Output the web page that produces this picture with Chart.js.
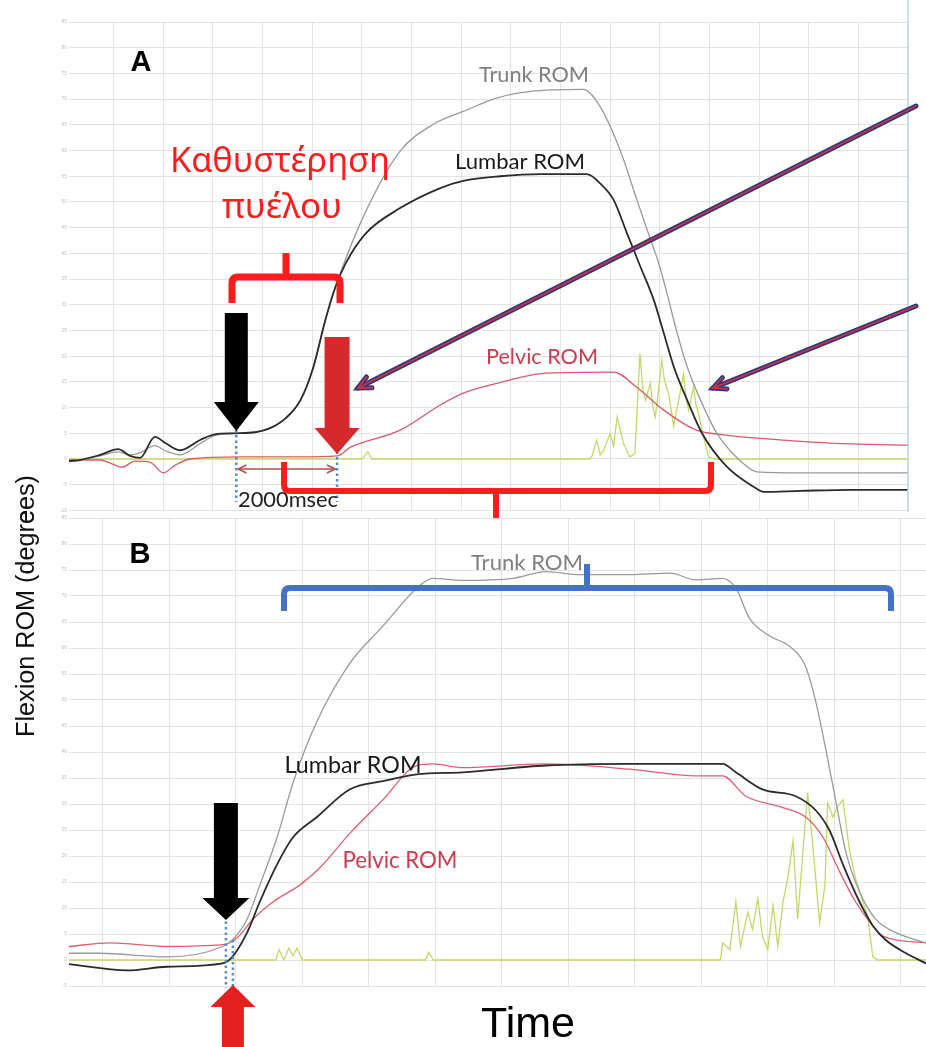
<!DOCTYPE html>
<html>
<head>
<meta charset="utf-8">
<script src="https://cdn.jsdelivr.net/npm/chart.js@4.4.1/dist/chart.umd.min.js"></script>
<style>
html, body { margin: 0; padding: 0; background: #fff; }
#wrap { position: relative; width: 926px; height: 1047px; overflow: hidden; }
canvas { position: absolute; left: 0; }
#chartA { top: 0; }
#chartB { top: 510px; }
</style>
</head>
<body>
<div id="wrap">
    <canvas id="chartA" width="926" height="520"></canvas>
    <canvas id="chartB" width="926" height="537"></canvas>
</div>
<script>
// Panel A (time in s, flexion in degrees)
const lumbarA_t = [0.1, 0.32, 0.73, 1.09, 1.33, 1.53, 1.83, 2.04, 2.34, 2.74, 3.04, 3.45, 3.85, 4.15, 4.46, 4.76, 5.02, 5.26, 5.46, 5.67, 6.07, 6.77, 7.58, 8.04, 8.79, 9.6, 10.53, 10.8, 11.07, 11.34, 11.61, 11.88, 12.08, 12.28, 12.55, 12.85, 13.35, 13.89, 14.09, 14.84, 15.85, 17.0];
const lumbarA = [-0.4, -0.2, 0.8, 1.9, 0.6, 0.2, 4.3, 3.1, 1.7, 3.7, 4.8, 5.0, 5.2, 6.0, 7.9, 11.4, 17.8, 26.9, 33.3, 38.0, 43.8, 48.8, 52.7, 54.1, 55.0, 55.4, 55.4, 53.6, 50.4, 43.9, 37.4, 30.9, 24.5, 18.0, 11.5, 5.0, -1.5, -5.4, -6.4, -6.2, -6.0, -6.0];
const trunkA_t = [0.1, 0.32, 0.73, 1.09, 1.33, 1.53, 1.83, 2.04, 2.34, 2.74, 3.04, 3.45, 3.85, 4.15, 4.46, 4.76, 5.02, 5.26, 5.56, 6.11, 6.77, 7.44, 8.04, 8.71, 9.4, 10.46, 10.8, 11.2, 11.54, 11.77, 12.0, 12.18, 12.35, 12.55, 12.82, 13.15, 13.76, 13.96, 14.84, 17.0];
const trunkA = [-0.4, -0.2, 0.6, 1.4, 0.8, 1.2, 2.6, 1.6, 0.8, 3.0, 4.6, 5.0, 5.2, 6.0, 7.9, 11.4, 17.8, 26.9, 36.0, 48.8, 59.9, 65.1, 67.6, 70.2, 71.5, 71.9, 68.5, 60.1, 50.4, 43.9, 37.4, 30.9, 24.5, 18.0, 11.5, 5.0, -1.5, -2.5, -2.7, -2.7];
const pelvicA_t = [0.1, 0.73, 0.93, 1.17, 1.43, 1.73, 2.0, 2.24, 2.54, 3.55, 4.76, 5.5, 5.77, 6.77, 7.58, 8.04, 8.71, 9.72, 11.07, 11.53, 12.08, 12.74, 13.29, 13.89, 15.44, 17.0];
const pelvicA = [-0.2, -0.2, -0.8, -1.6, -0.4, -0.6, -2.7, -1.2, 0, 0.4, 0.4, 0.6, 2.3, 5.6, 10.5, 12.8, 14.7, 16.7, 16.9, 14.0, 9.5, 5.6, 4.7, 4.1, 3.1, 2.7];
const emgA_t = [0.1, 6.0, 6.12, 6.2, 10.6, 10.63, 10.73, 10.8, 10.87, 11.0, 11.07, 11.14, 11.27, 11.4, 11.5, 11.6, 11.66, 11.71, 11.81, 11.86, 11.91, 11.97, 12.04, 12.1, 12.18, 12.28, 12.33, 12.38, 12.48, 12.53, 12.58, 12.68, 12.73, 12.78, 12.88, 12.98, 13.1, 17.0];
const emgA = [0, 0, 1.4, 0, 0, 0.4, 3.7, 0.8, 1.7, 5.0, 2.5, 8.2, 3.0, 0.4, 1.1, 20.5, 13.5, 11.4, 14.7, 10.2, 8.2, 13.0, 19.2, 15.0, 12.7, 6.3, 9.0, 11.4, 16.6, 12.0, 9.5, 14.0, 10.5, 8.9, 4.3, 0.4, 0, 0];
const yTicksA = [-10, -5, 0, 5, 10, 15, 20, 25, 30, 35, 40, 45, 50, 55, 60, 65, 70, 75, 80, 85];
const xGridA = [1, 2, 3, 4, 5, 6, 7, 8, 9, 10, 11, 12, 13, 14, 15, 16, 17];
const onsetA = [3.47, 5.5]; // lumbar, pelvic

// Panel B
const trunkB_t = [-0.51, -0.05, 0.96, 1.80, 1.95, 2.17, 2.36, 2.62, 2.86, 3.22, 3.71, 4.21, 4.72, 4.96, 5.41, 6.17, 6.66, 7.17, 7.92, 8.53, 8.92, 9.32, 9.52, 9.73, 10.03, 10.33, 10.57, 10.72, 10.87, 11.02, 11.17, 11.38, 11.62, 11.92, 12.38];
const trunkB = [1.3, 1.3, 0.6, 2.6, 3.9, 7.9, 14.4, 23.6, 34.1, 45.9, 57.0, 64.2, 71.5, 73.4, 73.0, 73.4, 74.7, 74.1, 74.1, 74.4, 73.1, 73.4, 71.5, 65.6, 62.3, 60.3, 56.4, 49.8, 40.7, 30.8, 21.0, 13.1, 7.9, 5.3, 3.3];
const lumbarB_t = [-0.51, 0.36, 0.96, 1.80, 1.95, 2.17, 2.36, 2.62, 2.86, 3.22, 3.71, 4.21, 4.72, 5.41, 6.66, 7.92, 9.32, 9.52, 9.92, 10.42, 10.72, 10.93, 11.13, 11.38, 11.58, 11.77, 12.08, 12.38];
const lumbarB = [-0.8, -2.0, -1.3, -0.65, 0.65, 5.3, 11.2, 18.4, 23.6, 27.5, 32.8, 34.4, 35.7, 36.1, 37.4, 37.7, 37.7, 36.1, 32.8, 31.5, 28.8, 24.9, 18.4, 11.2, 6.6, 3.9, 1.3, -0.65];
const pelvicB_t = [-0.51, 0.11, 0.96, 1.80, 2.02, 2.26, 2.56, 2.96, 3.26, 3.71, 4.21, 4.72, 4.96, 5.41, 6.62, 7.92, 8.92, 9.32, 9.67, 10.18, 10.57, 10.83, 11.08, 11.32, 11.58, 11.73, 12.38];
const pelvicB = [2.6, 3.3, 2.6, 2.95, 4.3, 7.9, 11.2, 14.4, 17.7, 24.3, 30.8, 37.4, 37.7, 37.0, 37.7, 36.7, 35.4, 35.4, 31.5, 29.5, 27.5, 23.6, 17.0, 11.2, 6.6, 4.6, 3.3];
const emgB_t = [-0.51, 2.6, 2.65, 2.72, 2.8, 2.86, 2.92, 3.0, 4.85, 4.9, 4.97, 9.29, 9.32, 9.43, 9.52, 9.59, 9.70, 9.77, 9.85, 9.92, 10.0, 10.08, 10.15, 10.23, 10.30, 10.38, 10.45, 10.53, 10.60, 10.68, 10.78, 10.86, 10.90, 10.98, 11.05, 11.13, 11.23, 11.32, 11.43, 11.50, 11.58, 11.65, 12.38];
const emgB = [0, 0, 2.0, 0, 2.3, 0.8, 2.3, 0, 0, 1.5, 0, 0, 3.3, 2.0, 11.2, 2.6, 9.2, 5.9, 11.8, 4.6, 2.0, 10.5, 2.6, 11.2, 15.7, 22.9, 7.9, 21.0, 32.2, 21.6, 7.2, 14.4, 30.2, 27.5, 29.5, 30.8, 21.0, 15.7, 11.2, 8.5, 0.65, 0, 0];
const yTicksB = [-5, 0, 5, 10, 15, 20, 25, 30, 35, 40, 45, 50, 55, 60, 65, 70, 75, 80, 85];
const xGridB = [0, 1, 2, 3, 4, 5, 6, 7, 8, 9, 10, 11, 12];
const onsetB = [1.85, 1.955];

const OFF_B = 510;
const RED = '#ff1c1c';
const SANS = '"Liberation Sans", Arial, sans-serif';

function pts(t, v) {
    return t.map((x, i) => ({ x: x, y: v[i] }));
}

// Text scaled so that it spans the given width
function fitText(ctx, txt, x, y, w, family, weight, color, baseline) {
    ctx.save();
    ctx.font = weight + ' 100px ' + family;
    const size = 100 * w / ctx.measureText(txt).width;
    ctx.font = weight + ' ' + size.toFixed(2) + 'px ' + family;
    ctx.fillStyle = color;
    ctx.textAlign = 'center';
    ctx.textBaseline = baseline || 'middle';
    ctx.fillText(txt, x, y);
    ctx.restore();
}

// Shared y title, drawn by both canvases (each shows its own part)
function yTitle(ctx) {
    ctx.save();
    ctx.translate(34, 606);
    ctx.rotate(-Math.PI / 2);
    fitText(ctx, 'Flexion ROM (degrees)', 0, 0, 262, SANS, 'normal', '#111', 'alphabetic');
    ctx.restore();
}

function blockArrow(ctx, cx, tail, headBase, tip, shaftHalf, headHalf, color) {
    ctx.save();
    ctx.fillStyle = color;
    ctx.beginPath();
    ctx.moveTo(cx - shaftHalf, tail);
    ctx.lineTo(cx + shaftHalf, tail);
    ctx.lineTo(cx + shaftHalf, headBase);
    ctx.lineTo(cx + headHalf, headBase);
    ctx.lineTo(cx, tip);
    ctx.lineTo(cx - headHalf, headBase);
    ctx.lineTo(cx - shaftHalf, headBase);
    ctx.closePath();
    ctx.fill();
    ctx.restore();
}

// Square bracket with a centre tick: legs point to legY, tick goes to tickY
function bracket(ctx, x1, x2, y, legY, tickX, tickY, color, lw) {
    const r = 6 * Math.sign(legY - y);
    ctx.save();
    ctx.strokeStyle = color;
    ctx.lineWidth = lw;
    ctx.lineJoin = 'round';
    ctx.beginPath();
    ctx.moveTo(x1, legY);
    ctx.lineTo(x1, y + r);
    ctx.quadraticCurveTo(x1, y, x1 + 6, y);
    ctx.lineTo(x2 - 6, y);
    ctx.quadraticCurveTo(x2, y, x2, y + r);
    ctx.lineTo(x2, legY);
    ctx.stroke();
    ctx.beginPath();
    ctx.moveTo(tickX, y);
    ctx.lineTo(tickX, tickY);
    ctx.stroke();
    ctx.restore();
}

function dotted(ctx, x, y1, y2) {
    ctx.save();
    ctx.strokeStyle = '#5b8bc4';
    ctx.lineWidth = 2.5;
    ctx.setLineDash([2.5, 3]);
    ctx.beginPath();
    ctx.moveTo(x, y1);
    ctx.lineTo(x, y2);
    ctx.stroke();
    ctx.restore();
}

function chevron(ctx, x, y, ang, len) {
    ctx.beginPath();
    ctx.moveTo(x + len * Math.cos(ang + 0.45), y + len * Math.sin(ang + 0.45));
    ctx.lineTo(x, y);
    ctx.lineTo(x + len * Math.cos(ang - 0.45), y + len * Math.sin(ang - 0.45));
    ctx.stroke();
}

function longArrow(ctx, x1, y1, x2, y2) {
    const back = Math.atan2(y1 - y2, x1 - x2);
    ctx.save();
    ctx.lineCap = 'round';
    [['#2e3a78', 5], ['#c8324a', 1.8]].forEach(([c, w]) => {
        ctx.strokeStyle = c;
        ctx.lineWidth = w;
        ctx.beginPath();
        ctx.moveTo(x1, y1);
        ctx.lineTo(x2, y2);
        ctx.stroke();
        chevron(ctx, x2, y2, back, 14);
    });
    ctx.restore();
}

const annotA = {
    id: 'annotA',
    afterDraw(chart) {
        const ctx = chart.ctx;
        const xs = chart.scales.x;
        const xL = xs.getPixelForValue(onsetA[0]);
        const xP = xs.getPixelForValue(onsetA[1]);

        ctx.save();
        ctx.strokeStyle = '#bcd5ee';
        ctx.lineWidth = 1.5;
        ctx.beginPath();
        ctx.moveTo(908, 0);
        ctx.lineTo(908, 512);
        ctx.stroke();
        ctx.restore();

        fitText(ctx, 'A', 141, 63, 21, SANS, 'bold', '#000');
        fitText(ctx, 'Trunk ROM', 534, 75, 110, 'Lato, sans-serif', 'normal', '#808080');
        fitText(ctx, 'Lumbar ROM', 520, 162, 130, 'Lato, sans-serif', 'normal', '#1a1a1a');
        fitText(ctx, 'Pelvic ROM', 542, 357, 112, 'Lato, sans-serif', 'normal', '#cc3b4e');
        fitText(ctx, 'Καθυστέρηση', 280, 172, 220, '"Noto Sans", "Open Sans", sans-serif', 'normal', RED, 'alphabetic');
        fitText(ctx, 'πυέλου', 282, 218, 120, '"Noto Sans", "Open Sans", sans-serif', 'normal', RED, 'alphabetic');

        bracket(ctx, 232, 340, 277, 303, 286, 253, RED, 7);

        dotted(ctx, xL, 413, 502);
        dotted(ctx, xP, 413, 502);
        blockArrow(ctx, xL, 313, 402, 431, 11.5, 22.5, '#000');
        blockArrow(ctx, xP, 337, 428, 454, 12.5, 22.5, '#d52a2c');

        // 2000 msec span
        ctx.save();
        ctx.strokeStyle = '#b0504e';
        ctx.lineWidth = 1.6;
        ctx.beginPath();
        ctx.moveTo(xL + 2, 469);
        ctx.lineTo(xP - 2, 469);
        ctx.stroke();
        chevron(ctx, xL + 2, 469, 0, 9);
        chevron(ctx, xP - 2, 469, Math.PI, 9);
        ctx.restore();

        bracket(ctx, 284, 711, 491, 462, 496, 519, RED, 6);
        fitText(ctx, '2000msec', 288, 507, 100, 'Lato, sans-serif', 'normal', '#222', 'alphabetic');

        longArrow(ctx, 916, 106, 358, 388);
        longArrow(ctx, 916, 306, 713, 388);

        yTitle(ctx);
    }
};

const annotB = {
    id: 'annotB',
    afterDraw(chart) {
        const ctx = chart.ctx;
        const xs = chart.scales.x;
        const xL = xs.getPixelForValue(onsetB[0]);
        const xP = xs.getPixelForValue(onsetB[1]);
        ctx.save();
        ctx.translate(0, -OFF_B);

        fitText(ctx, 'B', 140, 555, 21, SANS, 'bold', '#000');
        fitText(ctx, 'Trunk ROM', 527, 563, 112, 'Lato, sans-serif', 'normal', '#808080');
        bracket(ctx, 284, 891, 588, 611, 587, 564, '#4472c4', 6);
        fitText(ctx, 'Lumbar ROM', 353, 766, 137, 'Lato, sans-serif', 'normal', '#1a1a1a');
        fitText(ctx, 'Pelvic ROM', 400, 861, 115, 'Lato, sans-serif', 'normal', '#cc3b4e');

        dotted(ctx, xL, 905, 988);
        dotted(ctx, xP, 940, 1022);
        blockArrow(ctx, xL, 803, 898, 920, 12, 23.5, '#000');
        blockArrow(ctx, xP, 1060, 1007, 985, 11, 22.5, '#e3201f');

        fitText(ctx, 'Time', 528, 1037, 94, SANS, 'normal', '#000', 'alphabetic');
        yTitle(ctx);
        ctx.restore();
    }
};

function lineSet(t, v, color, width, smooth) {
    return {
        data: pts(t, v),
        borderColor: color,
        borderWidth: width,
        pointRadius: 0,
        fill: false,
        cubicInterpolationMode: smooth ? 'monotone' : 'default',
        tension: 0
    };
}

function makeChart(id, datasets, xMin, xMax, xGrid, yMin, yMax, yTicks, padding, plugin) {
    return new Chart(document.getElementById(id).getContext('2d'), {
        type: 'line',
        data: { datasets: datasets },
        options: {
            responsive: false,
            animation: false,
            layout: { padding: padding },
            plugins: { legend: { display: false }, tooltip: { enabled: false } },
            scales: {
                x: {
                    type: 'linear',
                    min: xMin,
                    max: xMax,
                    afterBuildTicks: s => { s.ticks = xGrid.map(v => ({ value: v })); },
                    afterFit: s => { s.height = 0; },
                    ticks: { display: false },
                    grid: { color: '#e4e4e4', lineWidth: 1, drawTicks: false },
                    border: { display: false }
                },
                y: {
                    min: yMin,
                    max: yMax,
                    afterBuildTicks: s => { s.ticks = yTicks.map(v => ({ value: v })); },
                    afterFit: s => { s.width = 69; },
                    ticks: { font: { size: 5, family: SANS }, color: '#c2c2c2', padding: 2 },
                    grid: { color: '#e4e4e4', lineWidth: 1, drawTicks: false },
                    border: { display: false }
                }
            }
        },
        plugins: [plugin]
    });
}

makeChart('chartA', [
    lineSet(lumbarA_t, lumbarA, '#2b2b2b', 1.8, true),
    lineSet(trunkA_t, trunkA, '#9a9a9a', 1.3, true),
    lineSet(pelvicA_t, pelvicA, '#d95a6b', 1.3, true),
    lineSet(emgA_t, emgA, '#c4d86a', 1.3, false)
], 0.1, 17, xGridA, -10, 85, yTicksA, { left: 0, right: 18, top: 22, bottom: 9.6 }, annotA);

makeChart('chartB', [
    lineSet(lumbarB_t, lumbarB, '#2b2b2b', 1.8, true),
    lineSet(trunkB_t, trunkB, '#9a9a9a', 1.3, true),
    lineSet(pelvicB_t, pelvicB, '#df5f70', 1.3, true),
    lineSet(emgB_t, emgB, '#c4d86a', 1.3, false)
], -0.51, 12.38, xGridB, -5, 85, yTicksB, { left: 0, right: 0, top: 8, bottom: 61 }, annotB);
</script>
</body>
</html>
